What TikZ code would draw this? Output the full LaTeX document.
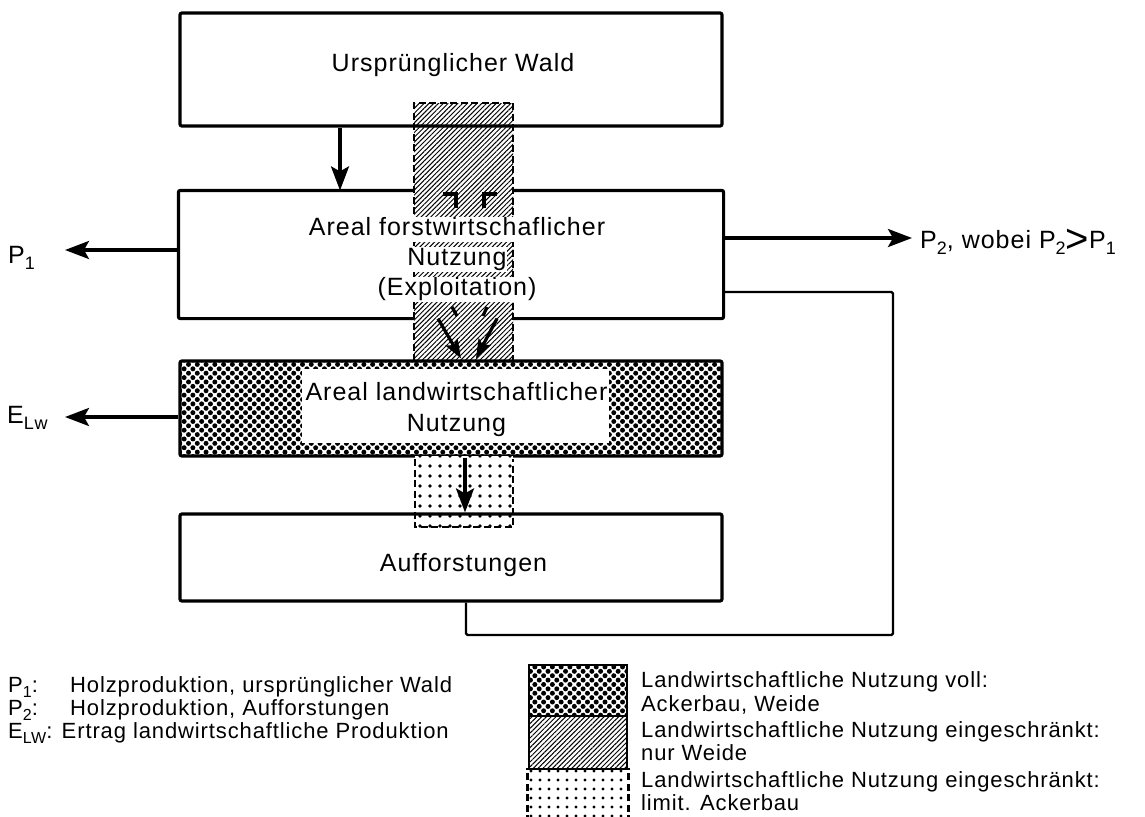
\documentclass[tikz,border=0pt]{standalone}
\usepackage{fontspec}
\setmainfont[LetterSpace=4]{Liberation Sans}
\usetikzlibrary{arrows.meta,patterns.meta,calc}
\newcommand\mainsz{\fontsize{25}{30}\selectfont}
\newcommand\legsz{\fontsize{22}{23}\selectfont}
\newcommand\subA[1]{\raisebox{-6pt}{\fontsize{18}{18}\selectfont #1}}
\newcommand\subB[1]{\raisebox{-5pt}{\fontsize{16}{16}\selectfont #1}}
\newcommand\bigGT{\raisebox{-4.5pt}{\fontsize{40}{40}\selectfont >}}
\begin{document}
\begin{tikzpicture}[x=1pt,y=-1pt,
  edge/.style={line width=3.2pt},
  thinedge/.style={line width=2.4pt},
  arr/.style={line width=3.2pt,-{Stealth[length=24pt,width=18pt,inset=5pt]}},
  arrs/.style={line width=3.2pt,-{Stealth[length=19pt,width=14pt,inset=4pt]}},
  colborder/.style={line width=2.4pt,dash pattern=on 7pt off 3.5pt},
  hatchfill/.style={pattern={Lines[angle=45,distance=3.4pt,line width=1pt]}},
  densefill/.style={pattern={Dots[angle=45,distance=6.2pt,radius=2.5pt]}},
  sparsefill/.style={pattern={Dots[distance=10pt,radius=1.8pt]}},
  legsparse/.style={pattern={Dots[distance=9pt,radius=1.6pt]}},
  box/.style={line width=3.2pt,rounded corners=2pt,minimum width=542pt,inner sep=0pt},
  txt/.style={font=\mainsz,inner sep=0pt},
  ltxt/.style={font=\mainsz,inner xsep=0pt,inner ysep=0.5pt,fill=white,text height=18pt,text depth=6pt},
  leg/.style={font=\legsz,inner sep=0pt,anchor=base west},
  swatch/.style={line width=2.8pt,minimum width=98pt,inner sep=0pt}
]
\useasboundingbox (0,0) rectangle (1145,816);

% hatched column (behind boxes 1 and 2)
\coordinate (hcTL) at (414,103);
\coordinate (hcTR) at (513,103);
\coordinate (hcBL) at (414,361);
\coordinate (hcBR) at (513,361);
\fill[white] (hcTL) rectangle (hcBR);
\path[hatchfill] (hcTL) rectangle (hcBR);
\draw[colborder] (hcBL) -- (hcTL) -- (hcTR) -- (hcBR);

% boxes
\node[box,draw,minimum height=113pt] (box1) at (451,69.5) {};
\node[box,minimum height=125pt] (box2) at (451,254.5) {};
\draw[edge,rounded corners=2pt] (box2.north -| hcTL) -- (box2.north west) -- (box2.south west) -- (box2.south -| hcBL);
\draw[edge,rounded corners=2pt] (box2.south -| hcBR) -- (box2.south east) -- (box2.north east) -- (box2.north -| hcTR);
\node[box,draw,densefill,minimum height=95pt] (box3) at (451,408.5) {};
\node[fill=white,minimum width=307pt,minimum height=74pt,inner sep=0pt] (lwin) at (455.5,406) {};

% dotted column
\coordinate (dcTL) at (415,456);
\coordinate (dcBR) at (513,527);
\fill[white] (dcTL) rectangle (dcBR);
\path[sparsefill] (dcTL) rectangle (dcBR);
\draw[colborder] (415,459) -- (415,527) -- (513,527) -- (513,459);

\node[box,draw,minimum height=87pt] (box4) at (451,557.5) {};

% texts in boxes
\node[txt,anchor=base] (t1) at (453,71) {Ursprünglicher Wald};
\node[ltxt,anchor=base] (t2a) at (457,235) {Areal forstwirtschaflicher};
\node[ltxt,anchor=base] (t2b) at (457,265) {Nutzung};
\node[ltxt,anchor=base] (t2c) at (457,295) {(Exploitation)};
\node[txt,anchor=base] (t3a) at (456.5,400) {Areal landwirtschaftlicher};
\node[txt,anchor=base] (t3b) at (456.5,431) {Nutzung};
\node[txt,anchor=base] (t4) at (463.5,571) {Aufforstungen};

% stubs of the hidden arrows inside box 2
\coordinate (sA1) at (443,194); \coordinate (sA2) at (456,194); \coordinate (sA3) at (456,208);
\coordinate (sB1) at (484,208); \coordinate (sB2) at (484,194); \coordinate (sB3) at (497,194);
\draw[edge] (sA1) -- (sA2) -- (sA3);
\draw[edge] (sB1) -- (sB2) -- (sB3);
\coordinate (sC1) at (452,307); \coordinate (sC2) at (457,316);
\coordinate (sD1) at (487,307); \coordinate (sD2) at (483,316);
\draw[edge] (sC1) -- (sC2);
\draw[edge] (sD1) -- (sD2);

% arrows between boxes
\draw[arr] ([xshift=-111pt]box1.south) -- ([xshift=-111pt]box2.north);
\draw[arrs] ([xshift=-13pt]box2.south) -- ([xshift=10pt,yshift=1pt]box3.north);
\draw[arrs] ([xshift=46pt]box2.south) -- ([xshift=25pt,yshift=1pt]box3.north);
\draw[arr] ([xshift=14pt]box3.south) -- ([xshift=14pt]box4.north);

% outside labels and arrows
\node[txt,anchor=base west] (p1lab) at (8,263) {P\subA{1}};
\node[txt,anchor=base west] (elab) at (7,423) {E\subA{Lw}};
\node[txt,anchor=base west] (p2lab) at (920,248) {P\subA{2}, wobei P\subA{2}\bigGT P\subA{1}};
\coordinate (p1tip) at (65,250);
\coordinate (etip) at (65,417);
\coordinate (p2tip) at (912,238);
\draw[arr] ([yshift=4.5pt]box2.west) -- (p1tip);
\draw[arr] ([yshift=-8.5pt]box3.west) -- (etip);
\draw[arr] ([yshift=16.5pt]box2.east) -- (p2tip);

% feedback line
\coordinate (loopc) at (893,635);
\draw[thinedge,rounded corners=1.5pt] ([yshift=-37.5pt]box2.east) -| (loopc) -| ([xshift=15pt]box4.south);

% legend left
\node[leg] (lg1a) at (8,692) {P\subB{1}:};
\node[leg] (lg1b) at (70,692) {Holzproduktion, ursprünglicher Wald};
\node[leg] (lg2a) at (8,715) {P\subB{2}:};
\node[leg] (lg2b) at (70,715) {Holzproduktion, Aufforstungen};
\node[leg] (lg3) at (8,738) {E\subB{LW}: Ertrag landwirtschaftliche Produktion};

% legend right swatches
\node[swatch,draw,densefill,minimum height=51pt] (sw1) at (578,690.5) {};
\node[swatch,draw,hatchfill,minimum height=53pt] (sw2) at (578,742.5) {};
\node[swatch,legsparse,minimum height=52pt] (sw3) at (578,795) {};
\draw[colborder,line width=2.4pt] (sw3.south west) -- (sw3.north west);
\draw[colborder,line width=2.4pt] (sw3.south east) -- (sw3.north east);

\node[leg] (lr1) at (641,687) {Landwirtschaftliche Nutzung voll:};
\node[leg] (lr2) at (641,711) {Ackerbau, Weide};
\node[leg] (lr3) at (641,737) {Landwirtschaftliche Nutzung eingeschränkt:};
\node[leg] (lr4) at (641,760) {nur Weide};
\node[leg] (lr5) at (641,787) {Landwirtschaftliche Nutzung eingeschränkt:};
\node[leg] (lr6) at (641,810) {limit. Ackerbau};
\end{tikzpicture}
\end{document}
